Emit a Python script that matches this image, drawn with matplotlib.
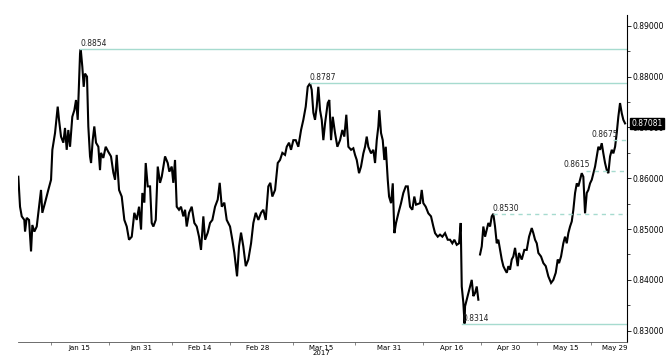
import numpy as np
import matplotlib.pyplot as plt
from matplotlib import rcParams

rcParams['font.family'] = 'sans-serif'
rcParams['font.sans-serif'] = ['DejaVu Sans']

# trading-session index (business days from 2 Jan 2017) and EURGBP price
session = [
    -0.65, -0.35, -0.05, 0.40, 0.53, 0.82, 1.23, 1.58, 1.81, 2.16, 2.58, 2.86, 3.33, 3.56, 4.04,
    4.61, 5.09, 5.32, 5.79, 6.26, 6.49, 6.84, 7.25, 7.54, 7.84, 8.12, 8.42, 8.82, 9.18, 9.47,
    9.77, 10.18, 10.30, 10.58, 10.82, 11.05, 11.40, 11.63, 11.93, 12.11, 12.40, 12.68, 12.98,
    13.39, 13.68, 13.86, 14.26, 14.68, 15.14, 15.61, 16.02, 16.32, 16.61, 17.02, 17.49, 17.95,
    18.37, 18.77, 19.25, 19.70, 20.12, 20.53, 20.88, 21.11, 21.46, 21.70, 22.05, 22.46, 22.75,
    23.04, 23.46, 23.81, 24.21, 24.51, 25.09, 25.56, 25.84, 26.26, 26.54, 26.84, 27.14, 27.54,
    27.89, 28.30, 28.60, 28.89, 29.30, 29.77, 30.23, 30.65, 31.05, 31.40, 31.81, 32.11, 32.58,
    32.98, 33.39, 33.86, 34.33, 34.68, 35.04, 35.49, 35.91, 36.49, 36.89, 37.25, 37.72, 38.07,
    38.42, 38.82, 39.25, 39.70, 40.18, 40.58, 41.00, 41.46, 41.93, 42.33, 42.75, 43.21, 43.56,
    43.91, 44.39, 44.86, 45.26, 45.67, 46.14, 46.44, 46.84, 47.19, 47.60, 48.02, 48.47, 48.95,
    49.35, 49.77, 50.12, 50.53, 50.82, 51.11, 51.40, 51.70, 51.98, 52.28, 52.58, 52.86, 53.16,
    53.63, 53.91, 54.21, 54.51, 54.91, 55.32, 55.79, 56.19, 56.54, 56.89, 57.25, 57.72, 58.12,
    58.42, 58.72, 59.12, 59.47, 59.88, 60.18, 60.47, 60.75, 61.23, 61.63, 61.93, 62.23, 62.51,
    62.68, 62.98, 63.28, 63.56, 63.81, 64.16, 64.39, 64.74, 65.04, 65.32, 65.61, 66.02, 66.49,
    66.89, 67.32, 67.67, 68.07, 68.47, 68.82, 69.12, 69.82, 70.12, 70.40, 70.82, 71.28, 71.75,
    72.16, 72.46, 72.93, 73.33, 73.74, 74.21, 74.68, 75.09, 75.49, 75.84, 76.26, 76.67, 76.96,
    77.14, 77.42, 77.63, 77.72, 78.02, 78.30, 78.60, 78.89, 79.18, 79.47, 79.77, 80.05, 80.20,
    80.35, 80.65, 80.93, 81.23, 81.53, 81.81, 82.11, 82.40, 82.68, 82.98, 83.28, 83.56, 83.86,
    84.16, 84.44, 84.74, 85.04, 85.32, 85.61, 85.91, 86.19, 86.49, 86.96, 87.19, 87.67, 88.12,
    88.54, 88.95, 89.42, 89.70, 90.00, 90.30, 90.58, 91.05, 91.46, 91.88, 92.33, 92.81, 93.21,
    93.63, 93.98, 94.21, 94.56, 94.96, 95.26, 95.56, 95.84, 96.14, 96.44, 96.72, 97.02, 97.32,
    97.60, 97.89, 98.19, 98.47, 98.77, 99.07, 99.35, 99.65, 99.95, 100.23, 100.53, 100.82,
    101.11, 101.40, 101.70, 101.98, 102.28, 102.58, 102.86, 103.16, 103.46, 103.74, 104.04,
    104.33, 104.61, 104.91, 105.21, 105.49, 105.79,
]
eurgbp = [
    0.8603, 0.8544, 0.8525, 0.8518, 0.8495, 0.8522, 0.8518, 0.8456, 0.8508, 0.8495, 0.8505, 0.8532, 0.8577, 0.8532, 0.8552,
    0.8577, 0.8597, 0.8656, 0.8689, 0.8741, 0.8715, 0.8682, 0.8670, 0.8699, 0.8656, 0.8695, 0.8662, 0.8721, 0.8734, 0.8754,
    0.8715, 0.8846, 0.8854, 0.8819, 0.8780, 0.8806, 0.8800, 0.8702, 0.8643, 0.8630, 0.8675, 0.8702, 0.8670,
    0.8662, 0.8616, 0.8650, 0.8640, 0.8662, 0.8652, 0.8643, 0.8611, 0.8597, 0.8646, 0.8577, 0.8564, 0.8518,
    0.8505, 0.8479, 0.8485, 0.8532, 0.8518, 0.8544, 0.8499, 0.8571, 0.8552, 0.8630, 0.8584, 0.8584, 0.8512,
    0.8505, 0.8518, 0.8623, 0.8591, 0.8603, 0.8643, 0.8630, 0.8613, 0.8623, 0.8591, 0.8636, 0.8544, 0.8538,
    0.8544, 0.8525, 0.8538, 0.8505, 0.8532, 0.8544, 0.8512, 0.8505, 0.8485, 0.8459, 0.8525, 0.8479, 0.8493,
    0.8512, 0.8518, 0.8544, 0.8558, 0.8591, 0.8544, 0.8552, 0.8518, 0.8505, 0.8479, 0.8453, 0.8407, 0.8466,
    0.8493, 0.8466, 0.8427, 0.8440, 0.8472, 0.8512, 0.8532, 0.8518, 0.8532, 0.8538, 0.8518, 0.8584, 0.8591,
    0.8564, 0.8577, 0.8630, 0.8636, 0.8650, 0.8646, 0.8662, 0.8670, 0.8656, 0.8675, 0.8675, 0.8662, 0.8695,
    0.8715, 0.8741, 0.8780, 0.8787, 0.8774, 0.8729, 0.8715, 0.8741, 0.8780, 0.8734, 0.8715, 0.8675, 0.8708,
    0.8748, 0.8754, 0.8675, 0.8721, 0.8689, 0.8662, 0.8675, 0.8695, 0.8682, 0.8725, 0.8662, 0.8656, 0.8659,
    0.8646, 0.8636, 0.8610, 0.8623, 0.8649, 0.8662, 0.8682, 0.8662, 0.8649, 0.8656, 0.8630, 0.8675, 0.8702,
    0.8734, 0.8689, 0.8675, 0.8636, 0.8662, 0.8597, 0.8564, 0.8551, 0.8590, 0.8492, 0.8512, 0.8531, 0.8551,
    0.8571, 0.8584, 0.8584, 0.8544, 0.8538, 0.8564, 0.8548, 0.8551, 0.8577, 0.8551, 0.8544, 0.8531, 0.8525,
    0.8505, 0.8492, 0.8485, 0.8489, 0.8485, 0.8492, 0.8479, 0.8479, 0.8472, 0.8479, 0.8469, 0.8472, 0.8512,
    0.8387, 0.8355, 0.8314, 0.8348, 0.8361, 0.8374, 0.8387, 0.8400, 0.8368, 0.8374, 0.8387, 0.8361, np.nan,
    0.8450, 0.8466, 0.8505, 0.8485, 0.8499, 0.8512, 0.8505, 0.8525, 0.8530, 0.8505, 0.8472, 0.8479, 0.8459,
    0.8440, 0.8427, 0.8420, 0.8414, 0.8427, 0.8420, 0.8440, 0.8446, 0.8463, 0.8427, 0.8453, 0.8440, 0.8459,
    0.8459, 0.8485, 0.8502, 0.8492, 0.8479, 0.8472, 0.8453, 0.8446, 0.8433, 0.8427, 0.8407, 0.8394, 0.8400,
    0.8414, 0.8440, 0.8433, 0.8446, 0.8472, 0.8485, 0.8472, 0.8492, 0.8505, 0.8515, 0.8538, 0.8571, 0.8590,
    0.8584, 0.8597, 0.8610, 0.8603, 0.8531, 0.8571, 0.8577, 0.8590, 0.8597, 0.8610, 0.8623, 0.8643,
    0.8662, 0.8656, 0.8669, 0.8649, 0.8630, 0.8616, 0.8610, 0.8643, 0.8656, 0.8649, 0.8662,
    0.8689, 0.8721, 0.8748, 0.8728, 0.8715, 0.8708,
]

# annotated levels: value, session where the line starts, dashed?
level_values = [0.8854, 0.8787, 0.8314, 0.8530, 0.8615, 0.8675]
level_start = [10.2, 50.5, 77.2, 82.6, 98.9, 103.7]
level_dashed = [False, False, False, True, True, True]
level_text_right = [False, False, False, False, True, True]

last_price = 0.87081

date_labels = ["Jan 15", "Jan 31", "Feb 14", "Feb 28", "Mar 15\n2017", "Mar 31",
               "Apr 16", "Apr 30", "May 15", "May 29"]
date_label_pos = [10.0, 21.0, 31.2, 41.4, 52.5, 64.4, 75.4, 85.3, 95.4, 104.0]
date_tick_pos = [5.0, 15.3, 26.3, 36.4, 47.5, 58.5, 70.4, 80.5, 90.4, 99.9]
price_ticks = [0.83, 0.84, 0.85, 0.86, 0.87, 0.88, 0.89]

level_color = "#a6dbcf"

fig = plt.figure(figsize=(6.68, 3.61), dpi=100)
ax = fig.add_axes([0.027, 0.053, 0.9117, 0.905])

ax.plot(session, eurgbp, color="black", lw=1.5, solid_joinstyle="miter")

xmax = 106.14
for val, x0, dashed, right in zip(level_values, level_start, level_dashed, level_text_right):
    ax.plot([x0, xmax], [val, val], color=level_color, lw=1.0,
            ls=(0, (3, 3)) if dashed else "-")
    if right:
        ax.text(x0 + 0.8, val + 0.0003, f"{val:.4f}", fontsize=5.5, color="#222222",
                ha="right", va="bottom")
    else:
        ax.text(x0, val + 0.0002, f"{val:.4f}", fontsize=5.5, color="#222222",
                ha="left", va="bottom")

ax.set_xlim(-0.7, xmax)
ax.set_ylim(0.8278, 0.8921)

for side in ["left", "top"]:
    ax.spines[side].set_visible(False)
ax.spines["right"].set_linewidth(0.8)
ax.spines["bottom"].set_linewidth(0.6)
ax.spines["bottom"].set_color("#555555")

ax.yaxis.tick_right()
ax.set_yticks(price_ticks)
ax.set_yticklabels([f"{v:.5f}" for v in price_ticks], fontsize=5.5)
ax.set_yticks(np.array(price_ticks[:-1]) + 0.005, minor=True)
ax.tick_params(axis="y", which="major", length=3, width=0.6, pad=1)
ax.tick_params(axis="y", which="minor", length=2, width=0.5)

ax.set_xticks(date_tick_pos)
ax.set_xticklabels([])
ax.tick_params(axis="x", which="major", length=2, width=0.5, color="#555555")
ax.set_xticks(date_label_pos, minor=True)
ax.set_xticklabels(date_labels, minor=True, fontsize=5, linespacing=0.9)
ax.tick_params(axis="x", which="minor", length=0, pad=2)

ax.annotate(f"{last_price:.5f}", xy=(1.0, last_price), xycoords=("axes fraction", "data"),
            xytext=(3, 0), textcoords="offset points", fontsize=5.5, color="white",
            va="center", ha="left",
            bbox=dict(boxstyle="square,pad=0.15", fc="black", ec="black"))

plt.savefig("out.png", dpi=100)
